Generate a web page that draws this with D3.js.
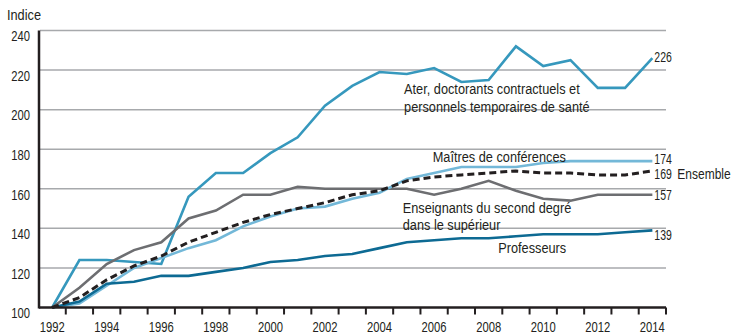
<!DOCTYPE html>
<html>
<head>
<meta charset="utf-8">
<script src="https://cdn.jsdelivr.net/npm/d3@7"></script>
<style>
  html, body { margin: 0; padding: 0; background: #fff; }
  svg { display: block; }
  text { font-family: "Liberation Sans Narrow", "Liberation Sans", Arial, sans-serif; fill: #231f20; font-size: 15px; }
</style>
</head>
<body>
<svg id="chart" width="731" height="334"></svg>
<script>
// Années
const years = d3.range(1992, 2015);

// Indices base 100 en 1992
const ater = [100, 124, 124, 123, 122, 156, 168, 168, 178, 186, 202, 212, 219, 218, 221, 214, 215, 232, 222, 225, 211, 211, 226];
const maitresConf = [100, 102, 111, 120, 125, 130, 134, 141, 146, 150, 151, 155, 158, 165, 168, 171, 171, 171, 173, 174, 174, 174, 174];
const ensemble = [100, 105, 114, 121, 126, 133, 138, 143, 147, 150, 153, 157, 159, 164, 166, 167, 168, 169, 168, 168, 167, 167, 169];
const secondDegre = [100, 110, 122, 129, 133, 145, 149, 157, 157, 161, 160, 160, 160, 160, 157, 160, 164, 159, 155, 154, 157, 157, 157];
const professeurs = [100, 103, 112, 113, 116, 116, 118, 120, 123, 124, 126, 127, 130, 133, 134, 135, 135, 136, 137, 137, 137, 138, 139];

const yTicks = [100, 120, 140, 160, 180, 200, 220, 240];
const xTickLabels = d3.range(1992, 2015, 2);

const series = [
  { name: "Ater", values: ater, color: "#3698bd", width: 2.6, dash: null },
  { name: "Enseignants du second degré", values: secondDegre, color: "#6d6e71", width: 2.6, dash: null },
  { name: "Maîtres de conférences", values: maitresConf, color: "#73b8d8", width: 2.6, dash: null },
  { name: "Professeurs", values: professeurs, color: "#0d6a93", width: 2.6, dash: null },
  { name: "Ensemble", values: ensemble, color: "#231f20", width: 3, dash: "7,4" }
];

const svg = d3.select("#chart");

const x = d3.scaleBand().domain(years).range([38.5, 666]).padding(0);
const xc = yr => x(yr) + x.bandwidth() / 2;
const y = d3.scaleLinear().domain([100, 240]).range([307.5, 30.5]);

// Texte condensé : police resserrée horizontalement
const NARROW = 0.85;   // lettres
const DIGITS = 0.75;   // chiffres
function label(parent, px, py, lines, anchor = "start", sx = NARROW, lead = 17.5) {
  const t = parent.append("text")
    .attr("transform", `translate(${px},${py}) scale(${sx},1)`)
    .attr("text-anchor", anchor);
  [].concat(lines).forEach((s, i) => {
    t.append("tspan").attr("x", 0).attr("dy", i === 0 ? "0.35em" : lead).text(s);
  });
  return t;
}

// Lignes de grille horizontales
svg.append("g")
  .selectAll("line")
  .data(yTicks.slice(1))
  .join("line")
  .attr("x1", 40).attr("x2", 666)
  .attr("y1", d => y(d)).attr("y2", d => y(d))
  .attr("stroke", "#a7a9ac")
  .attr("stroke-width", 1.5);

// Étiquettes de l'axe vertical (placées juste sous leur ligne)
const yLab = svg.append("g");
yTicks.forEach(v => label(yLab, 30, y(v) + 5.5, String(v), "end", DIGITS));
label(svg, 7, 15, "Indice");

// Courbes
const line = d3.line()
  .x((d, i) => xc(years[i]))
  .y(d => y(d));

svg.append("g")
  .selectAll("path")
  .data(series)
  .join("path")
  .attr("d", s => line(s.values))
  .attr("fill", "none")
  .attr("stroke", s => s.color)
  .attr("stroke-width", s => s.width)
  .attr("stroke-dasharray", s => s.dash)
  .attr("stroke-linejoin", "miter");

// Axe horizontal avec graduations entre les années
const xAxis = svg.append("g");
xAxis.append("line")
  .attr("x1", 39).attr("x2", 666)
  .attr("y1", y(100)).attr("y2", y(100))
  .attr("stroke", "#231f20").attr("stroke-width", 2.5);
xAxis.selectAll("line.tick")
  .data(years)
  .join("line")
  .attr("class", "tick")
  .attr("x1", d => x(d) + x.bandwidth()).attr("x2", d => x(d) + x.bandwidth())
  .attr("y1", y(100)).attr("y2", y(100) + 7)
  .attr("stroke", "#231f20").attr("stroke-width", 2);
xTickLabels.forEach(yr => label(xAxis, xc(yr), 326.5, String(yr), "middle", DIGITS));

// Axe vertical
svg.append("line")
  .attr("x1", 39).attr("x2", 39)
  .attr("y1", y(240)).attr("y2", y(100) + 1)
  .attr("stroke", "#231f20").attr("stroke-width", 2.5);

// Valeurs finales
const last = years.length - 1;
const endLabels = [
  { text: "226", v: ater[last], dy: -1 },
  { text: "174", v: maitresConf[last], dy: -2.5 },
  { text: "169", v: ensemble[last], dy: 3 },
  { text: "157", v: secondDegre[last], dy: 0.5 },
  { text: "139", v: professeurs[last], dy: 4 }
];
const endG = svg.append("g");
endLabels.forEach(d => label(endG, xc(2014) + 2, y(d.v) + d.dy, d.text, "start", 0.7));
label(svg, xc(2014) + 25, y(ensemble[last]) + 3, "Ensemble", "start", 0.8);

// Libellés des séries
const step = x.step();
const seriesLabels = [
  { lines: ["Ater, doctorants contractuels et", "personnels temporaires de santé"], yr: 2004.9, v: 210.5 },
  { lines: ["Maîtres de conférences"], yr: 2005.95, v: 176.3 },
  { lines: ["Enseignants du second degré", "dans le supérieur"], yr: 2004.85, v: 150.5 },
  { lines: ["Professeurs"], yr: 2008.35, v: 130 }
];
const labG = svg.append("g");
seriesLabels.forEach(d => label(labG, xc(1992) + (d.yr - 1992) * step, y(d.v), d.lines));
</script>
</body>
</html>
